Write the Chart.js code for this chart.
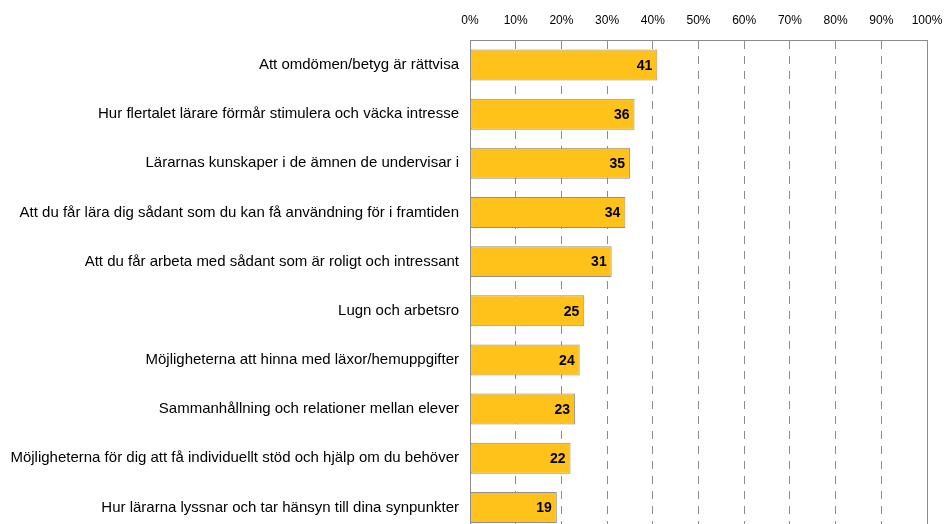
<!DOCTYPE html>
<html lang="sv">
<head>
  <meta charset="UTF-8">
  <title>Omdömen</title>
  <script src="https://cdn.jsdelivr.net/npm/chart.js@4.4.1/dist/chart.umd.min.js"></script>
  <style>
    html, body { margin: 0; padding: 0; background: #fff; overflow: hidden; }
    #wrap { position: absolute; left: 0; top: 0; width: 944px; height: 552px; }
  </style>
</head>
<body>
  <div id="wrap"><canvas id="chart"></canvas></div>
  <script>
    // categories, top to bottom
    const labels = [
      'Att omdömen/betyg är rättvisa',
      'Hur flertalet lärare förmår stimulera och väcka intresse',
      'Lärarnas kunskaper i de ämnen de undervisar i',
      'Att du får lära dig sådant som du kan få användning för i framtiden',
      'Att du får arbeta med sådant som är roligt och intressant',
      'Lugn och arbetsro',
      'Möjligheterna att hinna med läxor/hemuppgifter',
      'Sammanhållning och relationer mellan elever',
      'Möjligheterna för dig att få individuellt stöd och hjälp om du behöver',
      'Hur lärarna lyssnar och tar hänsyn till dina synpunkter'
    ];
    const values = [41, 36, 35, 34, 31, 25, 24, 23, 22, 19];
    const tickValues = [0, 10, 20, 30, 40, 50, 60, 70, 80, 90, 100];

    // draw the numbers at the end of each bar
    const valueLabels = {
      id: 'valueLabels',
      afterDatasetsDraw(chart) {
        const ctx = chart.ctx;
        const meta = chart.getDatasetMeta(0);
        ctx.save();
        ctx.font = 'bold 14px "Liberation Sans", Arial, sans-serif';
        ctx.fillStyle = '#000';
        ctx.textAlign = 'right';
        ctx.textBaseline = 'middle';
        meta.data.forEach((bar, i) => {
          ctx.fillText(String(values[i]), bar.x - 5, bar.y + 1);
        });
        ctx.restore();
      }
    };

    // solid line on the right side of the plot
    const rightBorder = {
      id: 'rightBorder',
      afterDraw(chart) {
        const a = chart.chartArea;
        const ctx = chart.ctx;
        ctx.save();
        ctx.strokeStyle = '#8c8c8c';
        ctx.lineWidth = 1;
        ctx.beginPath();
        ctx.moveTo(Math.round(a.right) + 0.5, a.top);
        ctx.lineTo(Math.round(a.right) + 0.5, a.bottom);
        ctx.stroke();
        ctx.restore();
      }
    };

    new Chart(document.getElementById('chart'), {
      type: 'bar',
      data: {
        labels: labels,
        datasets: [{
          data: values,
          backgroundColor: '#FFC21A',
          borderColor: '#8f8f8f',
          borderWidth: 1,
          borderSkipped: false,
          barPercentage: 0.7,
          categoryPercentage: 0.9
        }]
      },
      options: {
        indexAxis: 'y',
        responsive: true,
        maintainAspectRatio: false,
        animation: false,
        layout: { padding: { top: 0, right: 17, bottom: 0, left: 0 } },
        plugins: {
          legend: { display: false },
          tooltip: { enabled: false }
        },
        scales: {
          x: {
            position: 'top',
            min: 0,
            max: 100,
            afterBuildTicks(scale) {
              scale.ticks = tickValues.map(v => ({ value: v }));
            },
            afterFit(scale) {
              scale.paddingLeft = 0;
              scale.paddingRight = 0;
            },
            ticks: {
              callback: v => v + '%',
              color: '#000',
              padding: 13,
              maxRotation: 0,
              font: { family: '"Liberation Sans", Arial, sans-serif', size: 12 }
            },
            grid: {
              color: '#8c8c8c',
              drawTicks: false
            },
            border: { display: true, color: '#8c8c8c', dash: [8, 7] }
          },
          y: {
            afterFit(scale) { scale.width = 470; },
            ticks: {
              color: '#000',
              padding: 11,
              font: { family: '"Liberation Sans", Arial, sans-serif', size: 15 }
            },
            grid: { display: false, drawTicks: false },
            border: { display: true, color: '#8c8c8c' }
          }
        }
      },
      plugins: [valueLabels, rightBorder]
    });
  </script>
</body>
</html>
